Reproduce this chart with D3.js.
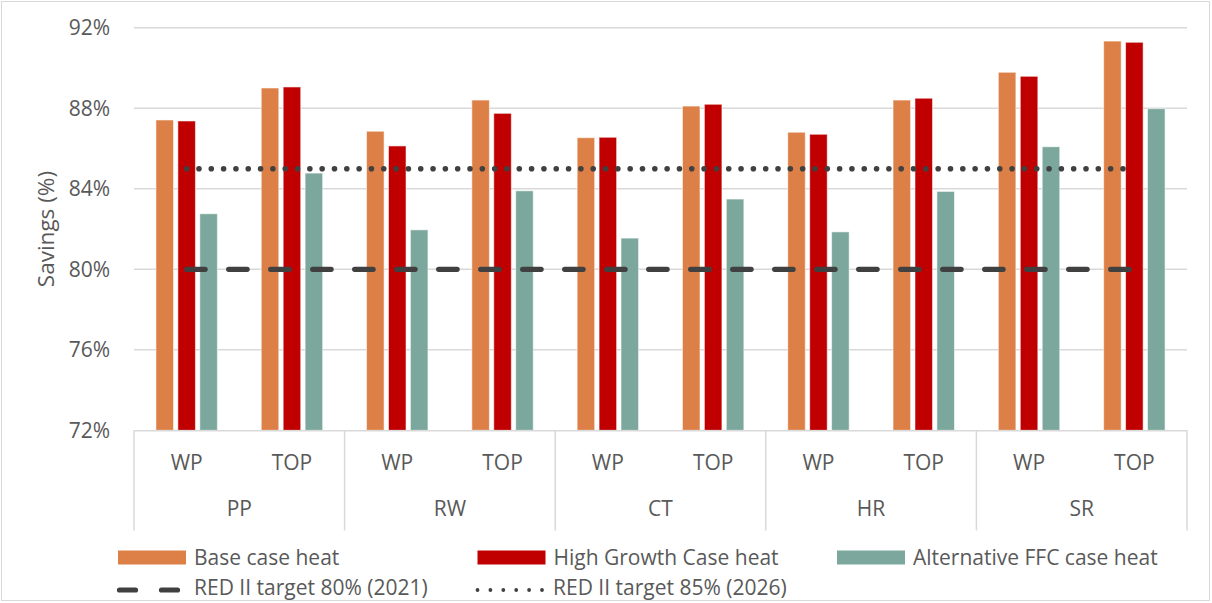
<!DOCTYPE html>
<html>
<head>
<meta charset="utf-8">
<script src="https://cdn.jsdelivr.net/npm/d3@7"></script>
<style>
  html, body { margin: 0; padding: 0; background: #fff; }
  svg text { font-family: "Open Sans", "Lato", sans-serif; fill: #595959; }
</style>
</head>
<body>
<svg id="chart" width="1212" height="603"></svg>
<script>
// Feedstock groups and the two process routes within each
const groups = ["PP", "RW", "CT", "HR", "SR"];
const routes = ["WP", "TOP"];

// GHG savings (%) per group/route, in order PP-WP, PP-TOP, RW-WP, ...
const baseCase = [87.42, 89.01, 86.86, 88.41, 86.54, 88.11, 86.81, 88.41, 89.79, 91.34];
const highGrowth = [87.37, 89.06, 86.13, 87.75, 86.56, 88.20, 86.71, 88.50, 89.59, 91.28];
const altFFC = [82.76, 84.78, 81.96, 83.90, 81.55, 83.49, 81.86, 83.87, 86.09, 87.98];

// RED II thresholds
const target2021 = 80;
const target2026 = 85;

const yTicks = [72, 76, 80, 84, 88, 92];
const seriesNames = ["Base case heat", "High Growth Case heat", "Alternative FFC case heat"];
const lineNames = ["RED II target 80% (2021)", "RED II target 85% (2026)"];
const colors = ["#DD8047", "#C00000", "#7BA79D"];
const lineColor = "#404040";
const fontSize = 21;

const svg = d3.select("#chart");

// chart frame
svg.append("rect")
  .attr("x", 1.5).attr("y", 1.5).attr("width", 1208).attr("height", 599)
  .attr("fill", "#fff").attr("stroke", "#D9D9D9").attr("stroke-width", 1);

const plot = { left: 134, right: 1187, top: 27.8, bottom: 430.3 };

const leaves = [];
groups.forEach(g => routes.forEach(r => leaves.push(g + "|" + r)));

const x0 = d3.scaleBand().domain(leaves).range([plot.left, plot.right]).padding(0);
const xGroup = d3.scaleBand().domain(groups).range([plot.left, plot.right]).padding(0);
const x1 = d3.scaleBand().domain(d3.range(3)).range([0, x0.bandwidth()])
  .paddingInner(0.2).paddingOuter(1);
const y = d3.scaleLinear().domain([72, 92]).range([plot.bottom, plot.top]);

// gridlines
svg.append("g")
  .selectAll("line").data(yTicks.filter(t => t > 72)).join("line")
  .attr("x1", plot.left).attr("x2", plot.right)
  .attr("y1", d => y(d)).attr("y2", d => y(d))
  .attr("stroke", "#D9D9D9").attr("stroke-width", 1.5);

// y axis labels
const yAxis = d3.axisLeft(y).tickValues(yTicks).tickFormat(d => d + "%").tickSize(0).tickPadding(24);
const yg = svg.append("g").attr("transform", `translate(${plot.left},0)`).call(yAxis);
yg.select(".domain").remove();
yg.selectAll("text").attr("font-size", fontSize).attr("fill", "#595959")
  .style("font-family", "'Open Sans', Lato, sans-serif");

svg.append("text")
  .attr("transform", `translate(54,${(plot.top + plot.bottom) / 2}) rotate(-90)`)
  .attr("text-anchor", "middle")
  .attr("font-size", 22.5)
  .text("Savings (%)");

// bars
const seriesData = [baseCase, highGrowth, altFFC];
seriesData.forEach((vals, si) => {
  svg.append("g").selectAll("rect").data(vals).join("rect")
    .attr("x", (d, i) => x0(leaves[i]) + x1(si))
    .attr("width", x1.bandwidth())
    .attr("y", d => y(d))
    .attr("height", d => y(72) - y(d))
    .attr("fill", colors[si])
    .attr("stroke", "rgba(255,255,255,0.55)")
    .attr("stroke-width", 1);
});

// target lines across category centres
const xFirst = x0(leaves[0]) + x0.bandwidth() / 2;
const xLast = x0(leaves[leaves.length - 1]) + x0.bandwidth() / 2;

svg.append("line")
  .attr("x1", xFirst).attr("x2", xLast)
  .attr("y1", y(target2021)).attr("y2", y(target2021))
  .attr("stroke", lineColor).attr("stroke-width", 5.2)
  .attr("stroke-linecap", "round")
  .attr("stroke-dasharray", "18.5 23.5");

svg.append("line")
  .attr("x1", xFirst).attr("x2", xLast)
  .attr("y1", y(target2026)).attr("y2", y(target2026))
  .attr("stroke", lineColor).attr("stroke-width", 5.6)
  .attr("stroke-linecap", "round")
  .attr("stroke-dasharray", "0 12.32");

// category axis: baseline and group separators
const axisColor = "#D9D9D9";
svg.append("line")
  .attr("x1", plot.left).attr("x2", plot.right)
  .attr("y1", plot.bottom + 0.5).attr("y2", plot.bottom + 0.5)
  .attr("stroke", axisColor).attr("stroke-width", 1.5);

const seps = groups.map(g => xGroup(g)).concat([plot.right]);
svg.append("g").selectAll("line").data(seps).join("line")
  .attr("x1", d => d).attr("x2", d => d)
  .attr("y1", plot.bottom).attr("y2", 530.5)
  .attr("stroke", axisColor).attr("stroke-width", 1.5);

// route labels
svg.append("g").selectAll("text").data(leaves).join("text")
  .attr("x", d => x0(d) + x0.bandwidth() / 2)
  .attr("y", 469.5)
  .attr("text-anchor", "middle")
  .attr("font-size", fontSize)
  .text(d => d.split("|")[1]);

// group labels
svg.append("g").selectAll("text").data(groups).join("text")
  .attr("x", d => xGroup(d) + xGroup.bandwidth() / 2)
  .attr("y", 515.5)
  .attr("text-anchor", "middle")
  .attr("font-size", fontSize)
  .text(d => d);

// legend
const legend = svg.append("g");
const legX = [118, 477.5, 837];
seriesNames.forEach((name, i) => {
  legend.append("rect")
    .attr("x", legX[i]).attr("y", 550.5).attr("width", 68).attr("height", 14)
    .attr("fill", colors[i]);
  legend.append("text")
    .attr("x", legX[i] + 76).attr("y", 565)
    .attr("font-size", fontSize)
    .text(name);
});

legend.append("line")
  .attr("x1", 119.5).attr("x2", 181.5).attr("y1", 590).attr("y2", 590)
  .attr("stroke", lineColor).attr("stroke-width", 5.2)
  .attr("stroke-linecap", "round").attr("stroke-dasharray", "16 26");
legend.append("text")
  .attr("x", 194).attr("y", 595).attr("font-size", fontSize)
  .text(lineNames[0]);

legend.append("line")
  .attr("x1", 477.5).attr("x2", 542).attr("y1", 590).attr("y2", 590)
  .attr("stroke", lineColor).attr("stroke-width", 3.8)
  .attr("stroke-linecap", "round").attr("stroke-dasharray", "0 12.9");
legend.append("text")
  .attr("x", 553).attr("y", 595).attr("font-size", fontSize)
  .text(lineNames[1]);
</script>
</body>
</html>
